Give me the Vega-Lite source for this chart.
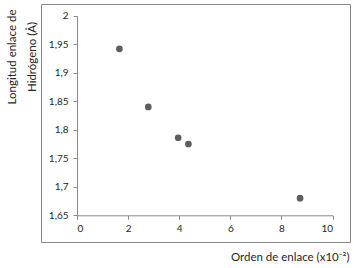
{
  "$schema": "https://vega.github.io/schema/vega-lite/v6.json",
  "autosize": {"type": "none"},
  "padding": {"left": 41, "top": 4, "right": 4, "bottom": 26},
  "width": 309,
  "height": 238,
  "background": "white",
  "config": {
    "view": {"stroke": "#8a8a8a", "strokeWidth": 1},
    "font": "Lato",
    "axis": {
      "grid": false,
      "domainColor": "#8a8a8a",
      "tickColor": "#8a8a8a",
      "tickSize": 4,
      "labelColor": "#262626",
      "labelFont": "Lato",
      "labelFontSize": 10,
      "titleColor": "#262626",
      "titleFont": "Lato",
      "titleFontWeight": "normal",
      "titleFontSize": 11.5
    }
  },
  "data": {
    "values": [
      {"orden": 1.66, "longitud": 1.942},
      {"orden": 2.79, "longitud": 1.840},
      {"orden": 3.96, "longitud": 1.786},
      {"orden": 4.36, "longitud": 1.775},
      {"orden": 8.73, "longitud": 1.680}
    ]
  },
  "resolve": {"axis": {"y": "independent"}},
  "layer": [
    {
      "mark": {"type": "point", "filled": true, "color": "#5e5e5e", "size": 45, "opacity": 1},
      "encoding": {
        "x": {
          "field": "orden",
          "type": "quantitative",
          "scale": {"domain": [0, 10], "range": [36, 291.5], "nice": false, "zero": false},
          "axis": {
            "orient": "bottom",
            "offset": -26.7,
            "values": [0, 2, 4, 6, 8, 10],
            "labelPadding": 4,
            "title": "Orden de enlace (x10⁻²)",
            "titleX": 308,
            "titleY": 41.7,
            "titleAlign": "right",
            "titleBaseline": "middle",
            "titleAnchor": null
          }
        },
        "y": {
          "field": "longitud",
          "type": "quantitative",
          "scale": {"domain": [1.65, 2], "range": [211.3, 11.7], "nice": false, "zero": false},
          "axis": {
            "orient": "left",
            "offset": -36,
            "values": [1.65, 1.7, 1.75, 1.8, 1.85, 1.9, 1.95, 2],
            "labelExpr": "replace(toString(datum.value), '.', ',')",
            "labelPadding": 5,
            "title": "Longitud enlace de",
            "titleAngle": -90,
            "titleX": -71,
            "titleY": 52.5,
            "titleAlign": "center",
            "titleBaseline": "top"
          }
        }
      }
    },
    {
      "mark": {"type": "point", "filled": true, "opacity": 0},
      "encoding": {
        "x": {"field": "orden", "type": "quantitative"},
        "y": {
          "field": "longitud",
          "type": "quantitative",
          "axis": {
            "orient": "left",
            "offset": -36,
            "labels": false,
            "ticks": false,
            "domain": false,
            "title": "Hidrógeno (Å)",
            "titleAngle": -90,
            "titleX": -51,
            "titleY": 52.5,
            "titleAlign": "center",
            "titleBaseline": "top"
          }
        }
      }
    }
  ]
}
